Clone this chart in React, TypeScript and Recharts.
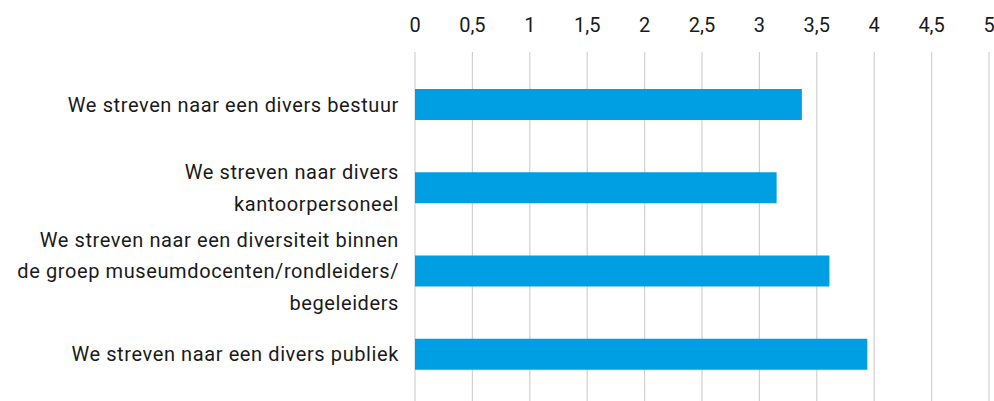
import { Bar, BarChart, CartesianGrid, XAxis, YAxis } from "recharts";

const categories = [
  "We streven naar een divers bestuur",
  "We streven naar divers\nkantoorpersoneel",
  "We streven naar een diversiteit binnen\nde groep museumdocenten/rondleiders/\nbegeleiders",
  "We streven naar een divers publiek",
];
const scores = [3.37, 3.15, 3.61, 3.94];
const xTicks = [0, 0.5, 1, 1.5, 2, 2.5, 3, 3.5, 4, 4.5, 5];

const data = categories.map((kategori, i) => ({ kategori, score: scores[i] }));

const FONT = "Roboto, sans-serif";
const TEXT = "#1a1a1a";
const LINE_H = 31.5;

const CategoryTick = ({ x, y, payload }: any) => {
  const lines = String(payload.value).split("\n");
  const first = y - ((lines.length - 1) * LINE_H) / 2 + 7;
  return (
    <text
      x={x}
      y={first}
      textAnchor="end"
      fontFamily={FONT}
      fontSize={20}
      letterSpacing={0.6}
      fill={TEXT}
    >
      {lines.map((l, i) => (
        <tspan key={i} x={x} y={first + i * LINE_H}>
          {l}
        </tspan>
      ))}
    </text>
  );
};

const ValueTick = ({ x, payload }: any) => (
  <text x={x} y={32} textAnchor="middle" fontFamily={FONT} fontSize={20} fill={TEXT}>
    {String(payload.value).replace(".", ",")}
  </text>
);

export default function App() {
  return (
    <div style={{ position: "absolute", left: 0, top: 0, background: "#fff" }}>
      <BarChart
        width={994}
        height={401}
        data={data}
        layout="vertical"
        margin={{ top: 0, right: 5, bottom: 0, left: 0 }}
      >
        <CartesianGrid horizontal={false} stroke="#d0d0d0" strokeWidth={1.2} />
        <XAxis
          type="number"
          orientation="top"
          domain={[0, 5]}
          ticks={xTicks}
          axisLine={false}
          tickLine={false}
          height={52}
          tick={<ValueTick />}
          interval={0}
        />
        <YAxis
          type="category"
          dataKey="kategori"
          width={415}
          axisLine={false}
          tickLine={false}
          tickMargin={10}
          padding={{ top: 11, bottom: 5 }}
          tick={<CategoryTick />}
          interval={0}
        />
        <Bar dataKey="score" fill="#009fe3" barSize={31} isAnimationActive={false} />
      </BarChart>
    </div>
  );
}
